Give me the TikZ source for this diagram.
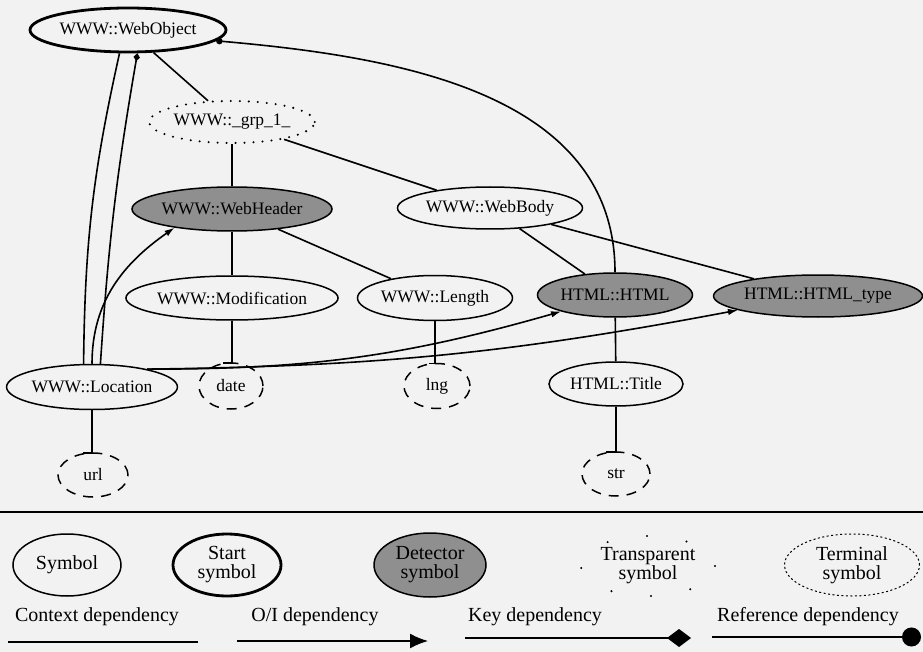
\documentclass[tikz,border=0pt]{standalone}
\usepackage{fontspec}
\setmainfont{Liberation Serif}
\usetikzlibrary{shapes.geometric,arrows.meta,positioning}
\definecolor{paper}{gray}{0.95}
\definecolor{detgray}{gray}{0.56}

\begin{document}
\begin{tikzpicture}[x=1pt,y=1pt,
  sym/.style={ellipse,draw,line width=1.5pt,fill=paper,inner sep=0pt,font=\fontsize{17.5}{19}\selectfont},
  startsym/.style={sym,line width=2.8pt},
  detsym/.style={sym,fill=detgray},
  transsym/.style={sym,line width=2.3pt,line cap=round,dash pattern=on 0pt off 9pt},
  termsym/.style={sym,dash pattern=on 10pt off 8pt},
  legtext/.style={font=\fontsize{20}{19}\selectfont,align=center},
  ctx/.style={line width=1.6pt},
  oi/.style={line width=1.6pt,-{Latex[length=10pt,width=6.5pt]}},
  keydep/.style={line width=1.6pt,-{Diamond[length=8pt,width=6.5pt]}},
  refdep/.style={line width=1.6pt,-{Circle[length=6.5pt]}}]
\useasboundingbox (0,0) rectangle (923,-652);
\fill[paper] (0,0) rectangle (923,-652);
%
       \node [startsym,minimum width=196pt,minimum height=44pt] at (128,-30) (wobj) {WWW::WebObject};
          \node [transsym,minimum width=165pt,minimum height=42pt] at (232,-122) (grp) {WWW::\_grp\_1\_};
             \node [detsym,minimum width=200pt,minimum height=44pt] at (232,-209) (whead) {WWW::WebHeader};
              \node [sym,minimum width=185pt,minimum height=42pt] at (490,-208) (wbody) {WWW::WebBody};
               \node [sym,minimum width=207pt,minimum height=44pt] at (232,-298) (wmod) {WWW::Modification};
                \node [sym,minimum width=155pt,minimum height=45pt] at (435,-298) (wlen) {WWW::Length};
                \node [detsym,minimum width=155pt,minimum height=44pt] at (615,-295) (hhtml) {HTML::HTML};
                \node [detsym,minimum width=205pt,minimum height=42pt] at (818,-296) (htype) {HTML::HTML\_type};
                  \node [sym,minimum width=170pt,minimum height=45pt] at (92,-387) (wloc) {WWW::Location};
                   \node [sym,minimum width=134pt,minimum height=44pt] at (616,-384) (htitle) {HTML::Title};
%
             \node [termsym,minimum width=64pt,minimum height=46pt] at (231,-386) (date) {date};
             \node [termsym,minimum width=66pt,minimum height=45pt] at (437,-386) (lng) {lng};
             \node [termsym,minimum width=70pt,minimum height=44pt] at (93,-475) (url) {url};
             \node [termsym,minimum width=68pt,minimum height=44pt] at (616,-474) (str) {str};
%
%
\path[ctx] (wobj) edge (grp);
\path[ctx] (grp) edge (whead);
\path[ctx] (grp) edge (wbody);
\path[ctx] (whead) edge (wmod);
\path[ctx] (whead) edge (wlen);
\path[ctx] (wbody) edge (hhtml);
\path[ctx] (wbody) edge (htype);
\path[ctx] (hhtml) edge (htitle);
\draw[ctx] (wmod.south) |- (date.110);
\draw[ctx] (wlen.south) |- (lng.110);
\draw[ctx] (wloc.south) |- (url.115);
\draw[ctx] (htitle.south) |- (str.115);
\draw[ctx] (wloc.110) to[bend left=6] (wobj.250);
\draw[keydep] (wloc.70) to[bend left=3] (wobj.292);
\draw[oi] (wloc.north) to[out=90,in=215] (whead.198);
\draw[oi] (wloc.18) to[bend right=8] (hhtml.197);
\draw[oi] (wloc.18) to[bend right=5] (htype.190);
\draw[refdep] (hhtml.north) to[out=90,in=-5] (wobj.353);
%
% legend
\draw[line width=1.8pt] (0,-512) -- (923,-512);
\node [sym,legtext,minimum width=108pt,minimum height=62pt] at (67,-565) (lsym) {Symbol};
\node [startsym,legtext,minimum width=108pt,minimum height=62pt] at (227,-565) (lstart) {Start\\symbol};
\node [detsym,legtext,minimum width=112pt,minimum height=64pt] at (430,-565) (ldet) {Detector\\symbol};
\node [transsym,legtext,minimum width=120pt,minimum height=60pt,dash pattern=on 0pt off 40pt] at (648,-566) (ltrans) {Transparent\\symbol};
\node [sym,legtext,minimum width=135pt,minimum height=62pt,line width=1pt,dash pattern=on 2pt off 2.5pt] at (852,-565) (lterm) {Terminal\\symbol};
%
\node [legtext] at (97,-617) (lctx) {Context dependency};
\node [legtext] at (315,-617) (loi) {O/I dependency};
\node [legtext] at (535,-617) (lkey) {Key dependency};
\node [legtext] at (808,-617) (lref) {Reference dependency};
\coordinate (ctxa) at (8,-642);   \coordinate (ctxb) at (198,-642);
\coordinate (oia) at (237,-641);  \coordinate (oib) at (428,-641);
\coordinate (keya) at (465,-638); \coordinate (keyb) at (691,-638);
\coordinate (refa) at (712,-637); \coordinate (refb) at (921,-637);
\draw[ctx] (ctxa) -- (ctxb);
\draw[line width=1.6pt,-{Latex[length=18pt,width=15pt]}] (oia) -- (oib);
\draw[line width=1.6pt,-{Diamond[length=24pt,width=18pt]}] (keya) -- (keyb);
\draw[line width=1.6pt,-{Circle[length=19pt]}] (refa) -- (refb);

\end{tikzpicture}
\end{document}
